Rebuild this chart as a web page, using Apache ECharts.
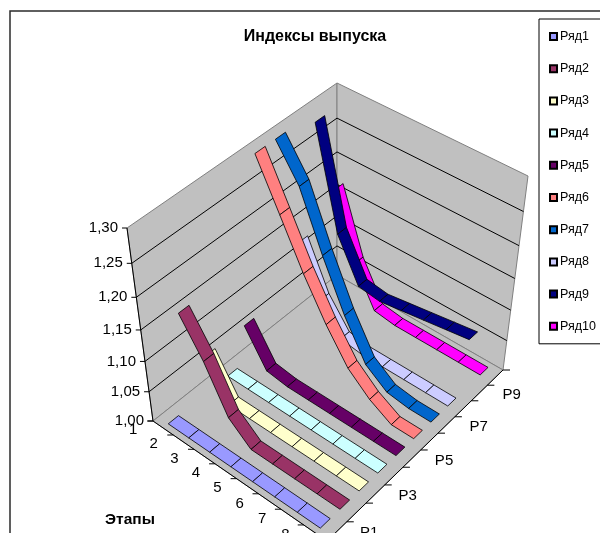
<!DOCTYPE html>
<html><head><meta charset="utf-8">
<style>html,body{margin:0;padding:0;background:#fff;overflow:hidden}#c{width:600px;height:533px}</style>
<script src="https://cdn.jsdelivr.net/npm/echarts@6/dist/echarts.min.js"></script></head>
<body><div id="c"></div>
<script>
const stages = ['1','2','3','4','5','6','7','8'];
const depthLabels = ['P1','','P3','','P5','','P7','','P9',''];
const valueTicks = [1.00,1.05,1.10,1.15,1.20,1.25,1.30];
const seriesNames = ['Ряд1','Ряд2','Ряд3','Ряд4','Ряд5','Ряд6','Ряд7','Ряд8','Ряд9','Ряд10'];
const seriesColors = ['#9999FF','#993366','#FFFFCC','#CCFFFF','#660066','#FF8080','#0066CC','#CCCCFF','#000080','#FF00FF'];

const ryad1  = [1.00,1.00,1.00,1.00,1.00,1.00,1.00,1.00];
const ryad2  = [1.155,1.10,1.03,1.00,1.00,1.00,1.00,1.00];
const ryad3  = [1.06,1.00,1.00,1.00,1.00,1.00,1.00,1.00];
const ryad4  = [1.00,1.00,1.00,1.00,1.00,1.00,1.00,1.00];
const ryad5  = [1.06,1.005,1.00,1.00,1.00,1.00,1.00,1.00];
const ryad6  = [1.30,1.23,1.16,1.10,1.05,1.02,1.00,1.00];
const ryad7  = [1.30,1.25,1.165,1.09,1.03,1.005,1.00,1.00];
const ryad8  = [1.125,1.05,1.005,1.00,1.00,1.00,1.00,1.00];
const ryad9  = [1.285,1.135,1.07,1.065,1.07,1.075,1.08,1.085];
const ryad10 = [1.165,1.065,1.005,1.00,1.00,1.00,1.00,1.00];
const allRows = [ryad1,ryad2,ryad3,ryad4,ryad5,ryad6,ryad7,ryad8,ryad9,ryad10];

// Box corners on screen: floor quad and ceiling quad.
const A=[153,421], D=[327,541], C=[503,370], B=[337,275];
const TA=[127,228], TD=[326.5,346.5], TC=[528,176], TB=[337,83];
const HEIGHT_SKEW = 1.12;  // perspective foreshortening along the value axis
const SCALE_SIZE = 500;    // size of the hidden grid that supplies the band and value scales
const RIBBON_HALF = 0.025; // half of a ribbon's width, as a share of the depth axis

// Perspective map of the unit square onto a screen quad.
function quadMap(P0,P1,P2,P3){
  const [x0,y0]=P0,[x1,y1]=P1,[x2,y2]=P2,[x3,y3]=P3;
  const dx1=x1-x2,dx2=x3-x2,sx=x0-x1+x2-x3,dy1=y1-y2,dy2=y3-y2,sy=y0-y1+y2-y3;
  const den=dx1*dy2-dx2*dy1,g=(sx*dy2-dx2*sy)/den,h=(dx1*sy-sx*dy1)/den;
  const a=x1-x0+g*x1,b=x3-x0+h*x3,d=y1-y0+g*y1,e=y3-y0+h*y3;
  return (u,v)=>{const q=g*u+h*v+1;return [(a*u+b*v+x0)/q,(d*u+e*v+y0)/q];};
}
const floorMap=quadMap(A,D,C,B), ceilMap=quadMap(TA,TD,TC,TB);
function project(u,v,w){
  const f=floorMap(u,v), t=ceilMap(u,v), s=w/(w+(1-w)*HEIGHT_SKEW);
  return [f[0]+(t[0]-f[0])*s, f[1]+(t[1]-f[1])*s];
}
const wOf = val => echarts.number.linearMap(val,[1,1.3],[0,1]);

// Walls, floor, gridlines, ticks and axis labels.
function renderFrame(){
  const kids=[];
  const GRAY='#C0C0C0', EDGE='#808080';
  const poly=(pts,fill,stroke)=>kids.push({type:'polygon',shape:{points:pts},style:{fill:fill,stroke:stroke,lineWidth:1}});
  const line=(p,q,stroke)=>kids.push({type:'line',shape:{x1:p[0],y1:p[1],x2:q[0],y2:q[1]},style:{stroke:stroke,lineWidth:1}});
  const text=(s,x,y,align)=>kids.push({type:'text',style:{text:s,x:x,y:y,align:align,verticalAlign:'middle',fill:'#000',font:'15px "Liberation Sans", Arial, sans-serif'}});

  poly([project(0,0,0),project(0,1,0),project(0,1,1),project(0,0,1)],GRAY,EDGE);
  poly([project(0,1,0),project(1,1,0),project(1,1,1),project(0,1,1)],GRAY,EDGE);
  poly([project(0,0,0),project(1,0,0),project(1,1,0),project(0,1,0)],GRAY,EDGE);

  valueTicks.forEach(val=>{
    const w=wOf(val), p=project(0,0,w);
    if(val>1 && val<1.3){
      line(p,project(0,1,w),'#000');
      line(project(0,1,w),project(1,1,w),'#000');
    }
    line(p,[p[0]-5,p[1]],'#000');
    text(val.toFixed(2).replace('.',','),p[0]-9,p[1],'right');
  });
  line(project(0,0,0),project(0,0,1),'#000');
  line(project(0,0,0),project(1,0,0),'#000');
  line(project(1,0,0),project(1,1,0),'#000');

  stages.forEach((s,i)=>{
    const t=project(i/8,0,0);
    line(t,[t[0]-6,t[1]],'#000');
    const c=project((i+.5)/8,0,0);
    text(s,c[0]-30,c[1]+2,'center');
  });
  depthLabels.forEach((s,k)=>{
    const t=project(1,(k+1)/10,0);
    line(t,[t[0]+7,t[1]],'#000');
    if(s){const c=project(1,(k+.5)/10,0);text(s,c[0]+23,c[1]+2,'left');}
  });
  return {type:'group',children:kids};
}

// One ribbon segment between neighbouring stages of a series.
function ribbonRenderer(k){
  const vals=allRows[k], vc=(k+.5)/10;
  return function(params,api){
    const i=api.value(0);
    if(i>=vals.length-1) return {type:'group',children:[]};
    const p0=api.coord([i,api.value(1)]), p1=api.coord([i+1,vals[i+1]]);
    const u0=p0[0]/SCALE_SIZE,w0=1-p0[1]/SCALE_SIZE,u1=p1[0]/SCALE_SIZE,w1=1-p1[1]/SCALE_SIZE;
    return {type:'polygon',shape:{points:[
      project(u0,vc-RIBBON_HALF,w0),project(u0,vc+RIBBON_HALF,w0),
      project(u1,vc+RIBBON_HALF,w1),project(u1,vc-RIBBON_HALF,w1)]},
      style:{fill:seriesColors[k],stroke:'#000',lineWidth:0.8,lineJoin:'bevel'}};
  };
}

const series=[{
  type:'custom',silent:true,z:1,coordinateSystem:'none',data:[[0]],clip:false,renderItem:renderFrame
}];
allRows.forEach((vals,k)=>series.push({
  type:'custom',name:seriesNames[k],silent:true,z:30-k,clip:false,
  itemStyle:{color:seriesColors[k],borderColor:'#000',borderWidth:1},
  data:vals.map((v,i)=>[i,v]),encode:{x:0,y:1},renderItem:ribbonRenderer(k)
}));

const FONT='"Liberation Sans", Arial, sans-serif';
const chart=echarts.init(document.getElementById('c'),null,{renderer:'canvas'});
chart.setOption({
  animation:false,backgroundColor:'#fff',
  title:[
    {text:'Индексы выпуска',left:310,top:24,textAlign:'center',textStyle:{fontSize:16,fontWeight:'bold',color:'#000',fontFamily:FONT}},
    {text:'Этапы',left:125,top:507,textAlign:'center',textStyle:{fontSize:15.5,fontWeight:'bold',color:'#000',fontFamily:FONT}}
  ],
  legend:{orient:'vertical',left:539,top:19,data:seriesNames,icon:'rect',itemWidth:7,itemHeight:7,itemGap:19.2,
    padding:[11,60,11,10],borderColor:'#000',borderWidth:1,backgroundColor:'#fff',selectedMode:false,z:50,
    textStyle:{fontSize:12.5,color:'#000',padding:[0,0,0,-2],lineHeight:13,fontFamily:FONT}},
  grid:{left:0,top:0,width:SCALE_SIZE,height:SCALE_SIZE,show:false},
  xAxis:{type:'category',data:stages,show:false},
  yAxis:{type:'value',min:1,max:1.3,show:false},
  graphic:[{type:'rect',shape:{x:10,y:11,width:700,height:700},style:{fill:'none',stroke:'#2b2b2b',lineWidth:1.5},silent:true,z:100}],
  series:series
});
</script></body></html>
